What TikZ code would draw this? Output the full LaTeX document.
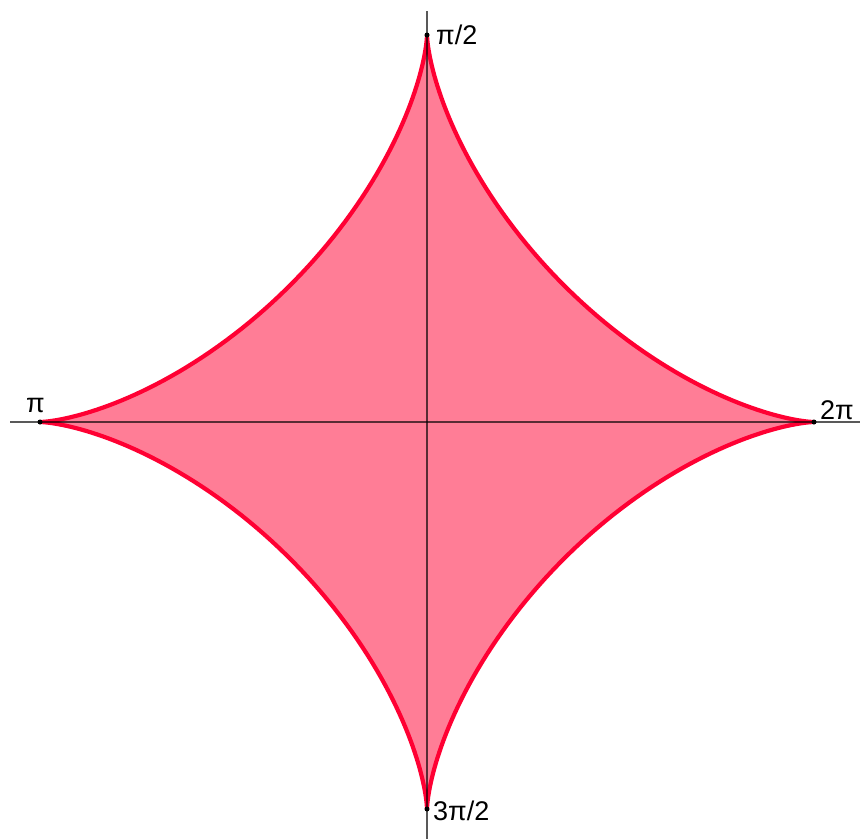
\documentclass[tikz,border=0pt]{standalone}
\usepackage{fontspec}
\setmainfont{Liberation Sans}
\definecolor{astroidred}{RGB}{255,0,51}
\definecolor{astroidfill}{RGB}{255,125,150}
\begin{document}
\begin{tikzpicture}[x=1pt,y=-1pt,
  axisline/.style={line width=1.3pt,black,opacity=0.65},
  curve/.style={line width=4.2pt,draw=astroidred,fill=astroidfill,line join=round},
  cuspdot/.style={circle,fill=black,inner sep=0pt,minimum size=5pt},
  lbl/.style={font=\fontsize{27}{27}\selectfont,inner sep=0pt,anchor=base west}]
\useasboundingbox (0,0) rectangle (860,839);
\coordinate (O) at (427,422);
\coordinate (axL) at (10,422);
\coordinate (axR) at (860,422);
\coordinate (axT) at (427,11);
\coordinate (axB) at (427,839);
\draw[curve] plot[domain=0:360,samples=721,variable=\t,smooth]
  ({427+387*cos(\t)*cos(\t)*cos(\t)},{422+387*sin(\t)*sin(\t)*sin(\t)}) -- cycle;
\draw[axisline] (axL) -- (axR);
\draw[axisline] (axT) -- (axB);
\node[cuspdot] (top) at (427,35) {};
\node[cuspdot] (left) at (40,422) {};
\node[cuspdot] (right) at (814,422) {};
\node[cuspdot] (bottom) at (427,809) {};
\node[lbl] (ltop) at (436,44) {π/2};
\node[lbl] (lleft) at (26,412) {π};
\node[lbl] (lright) at (820,419) {2π};
\node[lbl] (lbottom) at (433,820) {3π/2};
\end{tikzpicture}
\end{document}
